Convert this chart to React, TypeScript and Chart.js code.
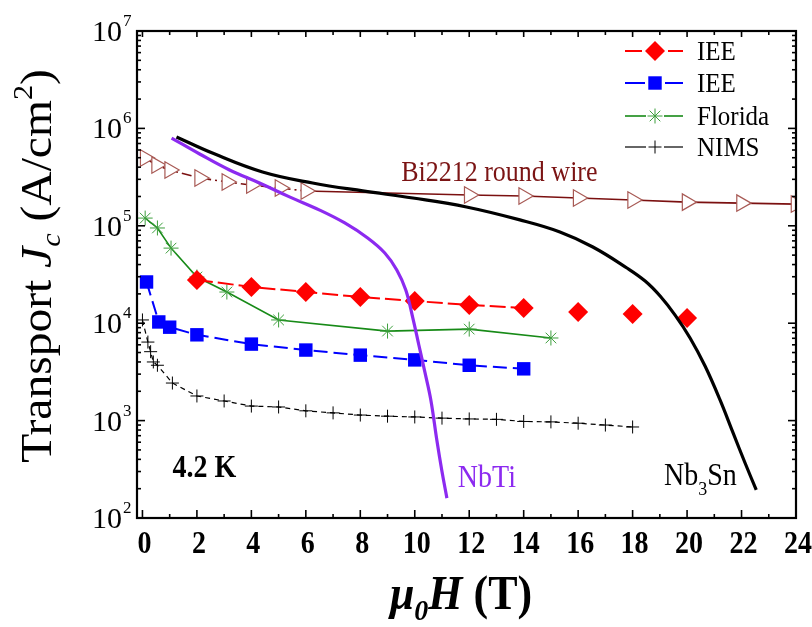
import React, { useEffect, useRef } from 'react';
import { Chart, registerables } from 'chart.js';

Chart.register(...registerables);

const FONT = '"Liberation Serif", "Times New Roman", serif';

// ---------- data ----------
const ieeRedX = [2, 4, 6, 8, 10, 12, 14, 16, 18, 20];
const ieeRedY = [2.78e4, 2.36e4, 2.09e4, 1.86e4, 1.69e4, 1.54e4, 1.43e4, 1.3e4, 1.24e4, 1.13e4];

const ieeBlueX = [0.15, 0.6, 1, 2, 4, 6, 8, 10, 12, 14];
const ieeBlueY = [2.65e4, 1.03e4, 9.1e3, 7.6e3, 6.1e3, 5.3e3, 4.7e3, 4.2e3, 3.7e3, 3.4e3];

const floridaX = [0.1, 0.55, 1.05, 2, 3.1, 5, 9, 12, 15];
const floridaY = [1.2e5, 9.5e4, 5.9e4, 2.98e4, 2.09e4, 1.08e4, 8.3e3, 8.7e3, 7.05e3];

const nimsX = [0, 0.2, 0.3, 0.4, 0.55, 1.1, 2, 3, 4, 5, 6, 7, 8, 9, 10, 11, 12, 13, 14, 15, 16, 17, 18];
const nimsY = [1.08e4, 6.4e3, 5.1e3, 4.0e3, 3.7e3, 2.43e3, 1.79e3, 1.59e3, 1.41e3, 1.38e3, 1.26e3, 1.2e3,
  1.14e3, 1.11e3, 1.09e3, 1.06e3, 1.04e3, 1.03e3, 9.8e2, 9.7e2, 9.4e2, 9.0e2, 8.6e2];

const bi2212X = [0.1, 0.52, 1.0, 2.1, 3.1, 4.0, 5.05, 6.0, 12, 14, 16, 18, 20, 22, 24];
const bi2212Y = [4.97e5, 4.2e5, 3.74e5, 3.1e5, 2.82e5, 2.62e5, 2.44e5, 2.28e5, 2.07e5, 2.02e5, 1.93e5,
  1.84e5, 1.75e5, 1.71e5, 1.67e5];

const nbtiX = [1.07, 2.1, 3.2, 4.3, 5.4, 6.51, 7.43, 8.27, 8.9, 9.34, 9.67, 9.93, 10.15, 10.37, 10.59, 10.81,
  10.99, 11.18];
const nbtiY = [7.96e5, 5.46e5, 3.74e5, 2.75e5, 1.98e5, 1.45e5, 1.07e5, 7.5e4, 5.26e4, 3.52e4, 2.19e4, 1.13e4,
  5.97e3, 3.16e3, 1.63e3, 631, 311, 160];

const nb3snX = [1.25, 2.57, 4.41, 6.25, 8.09, 9.93, 11.9, 13.86, 15.33, 16.54, 17.79, 18.46, 19.01, 19.56,
  20.11, 20.66, 21.21, 21.69, 22.13, 22.54];
const nb3snY = [8.17e5, 5.58e5, 3.57e5, 2.75e5, 2.28e5, 1.93e5, 1.56e5, 1.15e5, 8.65e4, 6.06e4, 3.69e4,
  2.71e4, 1.9e4, 1.21e4, 7.05e3, 3.63e3, 1.63e3, 747, 367, 194];

const xMajorTicks = [0, 2, 4, 6, 8, 10, 12, 14, 16, 18, 20, 22, 24];
const xTickLabels = ['0', '2', '4', '6', '8', '10', '12', '14', '16', '18', '20', '22', '24'];
const xMinorTicks = [1, 3, 5, 7, 9, 11, 13, 15, 17, 19, 21, 23];
const yExponents = [2, 3, 4, 5, 6, 7];

const legendLabels = ['IEE', 'IEE', 'Florida', 'NIMS'];

const pts = (xs: number[], ys: number[]) => xs.map((x, i) => ({ x, y: ys[i] }));

// ---------- drawing helpers ----------
type Part = { t: string; font: string; dy?: number; color?: string };

function measureParts(ctx: CanvasRenderingContext2D, parts: Part[]) {
  let w = 0;
  for (const p of parts) {
    ctx.font = p.font;
    w += ctx.measureText(p.t).width;
  }
  return w;
}

function drawParts(ctx: CanvasRenderingContext2D, parts: Part[], x: number, y: number, color: string) {
  let cx = x;
  ctx.textAlign = 'left';
  ctx.textBaseline = 'alphabetic';
  for (const p of parts) {
    ctx.font = p.font;
    ctx.fillStyle = p.color || color;
    ctx.fillText(p.t, cx, y + (p.dy || 0));
    cx += ctx.measureText(p.t).width;
  }
}

function drawMarker(ctx: CanvasRenderingContext2D, style: string, x: number, y: number, r: number,
  fill: string, stroke: string, lw: number) {
  ctx.save();
  ctx.setLineDash([]);
  ctx.lineWidth = lw;
  ctx.strokeStyle = stroke;
  ctx.fillStyle = fill;
  ctx.beginPath();
  if (style === 'rectRot') {
    ctx.moveTo(x, y - r); ctx.lineTo(x + r, y); ctx.lineTo(x, y + r); ctx.lineTo(x - r, y); ctx.closePath();
    ctx.fill();
  } else if (style === 'rect') {
    const s = r * Math.SQRT1_2;
    ctx.rect(x - s, y - s, 2 * s, 2 * s);
    ctx.fill();
  } else if (style === 'star') {
    for (let k = 0; k < 4; k++) {
      const a = (k * Math.PI) / 4;
      ctx.moveTo(x + Math.cos(a) * r, y + Math.sin(a) * r);
      ctx.lineTo(x - Math.cos(a) * r, y - Math.sin(a) * r);
    }
    ctx.stroke();
  } else if (style === 'cross') {
    ctx.moveTo(x - r, y); ctx.lineTo(x + r, y);
    ctx.moveTo(x, y - r); ctx.lineTo(x, y + r);
    ctx.stroke();
  }
  ctx.restore();
}

const overlayPlugin = {
  id: 'overlay',
  afterDraw(chart: any) {
    const ctx: CanvasRenderingContext2D = chart.ctx;
    const a = chart.chartArea;
    const xs = chart.scales.x;
    const ys = chart.scales.y;
    ctx.save();
    ctx.setLineDash([]);
    ctx.strokeStyle = '#000';
    ctx.fillStyle = '#000';

    // frame
    ctx.lineWidth = 2.2;
    ctx.strokeRect(a.left, a.top, a.right - a.left, a.bottom - a.top);

    const seg = (x1: number, y1: number, x2: number, y2: number) => {
      ctx.beginPath(); ctx.moveTo(x1, y1); ctx.lineTo(x2, y2); ctx.stroke();
    };
    ctx.lineWidth = 1.6;
    // x ticks (inward, bottom & top)
    for (const v of xMajorTicks) {
      const px = xs.getPixelForValue(v);
      seg(px, a.bottom, px, a.bottom - 8);
      seg(px, a.top, px, a.top + 6);
    }
    for (const v of xMinorTicks) {
      const px = xs.getPixelForValue(v);
      seg(px, a.bottom, px, a.bottom - 4);
      seg(px, a.top, px, a.top + 4);
    }
    // y ticks (inward, left & right)
    for (const e of yExponents) {
      const py = ys.getPixelForValue(Math.pow(10, e));
      seg(a.left, py, a.left + 8, py);
      seg(a.right, py, a.right - 8, py);
      if (e < 7) {
        for (let m = 2; m <= 9; m++) {
          const pm = ys.getPixelForValue(m * Math.pow(10, e));
          seg(a.left, pm, a.left + 4, pm);
          seg(a.right, pm, a.right - 4, pm);
        }
      }
    }

    // x tick labels
    ctx.font = `bold 28px ${FONT}`;
    ctx.textAlign = 'center';
    ctx.textBaseline = 'alphabetic';
    xMajorTicks.forEach((v, i) => {
      const px = xs.getPixelForValue(v);
      ctx.save();
      ctx.translate(px + 2, 553);
      ctx.scale(1, 1.1);
      ctx.fillText(xTickLabels[i], 0, 0);
      ctx.restore();
    });

    // y tick labels 10^n
    for (const e of yExponents) {
      const py = ys.getPixelForValue(Math.pow(10, e));
      ctx.font = `30px ${FONT}`;
      ctx.textAlign = 'right';
      ctx.fillText('10', 122, py + 10);
      ctx.font = `17px ${FONT}`;
      ctx.textAlign = 'left';
      ctx.fillText(String(e), 123, py - 5);
    }

    // y title
    const yParts: Part[] = [
      { t: 'Transport ', font: `44px ${FONT}` },
      { t: 'J', font: `italic 44px ${FONT}` },
      { t: 'c', font: `italic 28px ${FONT}`, dy: 9 },
      { t: ' (A/cm', font: `44px ${FONT}` },
      { t: '2', font: `28px ${FONT}`, dy: -19 },
      { t: ')', font: `44px ${FONT}` },
    ];
    ctx.save();
    ctx.translate(51, 266);
    ctx.rotate(-Math.PI / 2);
    ctx.scale(1.08, 1);
    const yw = measureParts(ctx, yParts);
    drawParts(ctx, yParts, -yw / 2, 0, '#000');
    ctx.restore();

    // x title
    const xParts: Part[] = [
      { t: 'μ', font: `bold italic 44px ${FONT}` },
      { t: '0', font: `bold italic 28px ${FONT}`, dy: 10 },
      { t: 'H', font: `bold italic 44px ${FONT}` },
      { t: ' (T)', font: `bold 44px ${FONT}` },
    ];
    const xw = measureParts(ctx, xParts);
    ctx.save();
    ctx.translate(xs.getPixelForValue(11.7) - xw / 2, 609);
    ctx.scale(1, 1.08);
    drawParts(ctx, xParts, 0, 0, '#000');
    ctx.restore();

    // annotations
    const ann = (parts: Part[], xv: number, yv: number, color: string) => {
      ctx.save();
      ctx.translate(xs.getPixelForValue(xv), ys.getPixelForValue(yv));
      ctx.scale(1, 1.1);
      drawParts(ctx, parts, 0, 0, color);
      ctx.restore();
    };
    ann([{ t: 'Bi2212 round wire', font: `26px ${FONT}` }], 9.5, 2.88e5, '#7b1414');
    ann([{ t: 'NbTi', font: `28px ${FONT}` }], 11.58, 208, '#8c2af0');
    ann([
      { t: 'Nb', font: `28px ${FONT}` },
      { t: '3', font: `18px ${FONT}`, dy: 9 },
      { t: 'Sn', font: `28px ${FONT}` },
    ], 19.15, 218, '#000');
    ann([{ t: '4.2 K', font: `bold 28px ${FONT}` }], 1.1, 263, '#000');

    // legend
    const rows = [51, 83, 116, 147];
    const lx0 = a.right - 171;
    const lmid = lx0 + 30;
    const lx1 = lx0 + 58;
    legendLabels.forEach((lab, i) => {
      const ds = chart.data.datasets.find((d: any) => d.legendIndex === i);
      if (!ds) return;
      const y = rows[i];
      const gap = ds.legendGap;
      ctx.save();
      ctx.setLineDash([]);
      ctx.strokeStyle = ds.borderColor;
      ctx.lineWidth = ds.borderWidth;
      seg(lx0, y, lmid - gap, y);
      seg(lmid + gap, y, lx1, y);
      ctx.restore();
      drawMarker(ctx, ds.pointStyle, lmid, y, ds.pointRadius, ds.pointBackgroundColor,
        ds.pointBorderColor, ds.pointBorderWidth);
      ctx.save();
      ctx.translate(lx0 + 72, y + 9);
      ctx.scale(1, 1.08);
      ctx.font = `25px ${FONT}`;
      ctx.fillStyle = '#000';
      ctx.textAlign = 'left';
      ctx.fillText(lab, 0, 0);
      ctx.restore();
    });

    ctx.restore();
  },
};

export default function App() {
  const ref = useRef<HTMLCanvasElement>(null);
  useEffect(() => {
    document.body.style.margin = '0';
    const canvas = ref.current!;
    const datasets: any[] = [
      {
        label: 'NbTi', data: pts(nbtiX, nbtiY), borderColor: '#8c2af0', borderWidth: 3.2,
        pointRadius: 0, tension: 0.4, order: 0,
      },
      {
        label: 'Nb3Sn', data: pts(nb3snX, nb3snY), borderColor: '#000000', borderWidth: 3.2,
        pointRadius: 0, tension: 0.4, order: 1,
      },
      {
        label: 'IEE', legendIndex: 0, legendGap: 13, data: pts(ieeRedX, ieeRedY), borderColor: '#ff0000',
        borderWidth: 2, borderDash: [16, 5], pointStyle: 'rectRot', pointRadius: 10,
        pointBackgroundColor: '#ff0000', pointBorderColor: '#ff0000', pointBorderWidth: 0, order: 2,
        segment: { borderColor: (c: any) => (c.p0DataIndex >= 6 ? 'rgba(0,0,0,0)' : undefined) },
      },
      {
        label: 'IEE', legendIndex: 1, legendGap: 10, data: pts(ieeBlueX, ieeBlueY), borderColor: '#0000ff',
        borderWidth: 2, borderDash: [14, 6], pointStyle: 'rect', pointRadius: 9.5,
        pointBackgroundColor: '#0000ff', pointBorderColor: '#0000ff', pointBorderWidth: 0, order: 3,
      },
      {
        label: 'Florida', legendIndex: 2, legendGap: 9, data: pts(floridaX, floridaY), borderColor: '#178a17',
        borderWidth: 1.6, pointStyle: 'star', pointRadius: 7.5, pointBackgroundColor: '#3d9f3d',
        pointBorderColor: '#3d9f3d', pointBorderWidth: 1, order: 4,
      },
      {
        label: 'NIMS', legendIndex: 3, legendGap: 9, data: pts(nimsX, nimsY), borderColor: '#000000',
        borderWidth: 1.2, borderDash: [5, 4], pointStyle: 'cross', pointRadius: 6.5,
        pointBackgroundColor: '#000000', pointBorderColor: '#000000', pointBorderWidth: 1, order: 5,
      },
      {
        label: 'Bi2212 round wire', data: pts(bi2212X, bi2212Y), borderColor: '#7b1010', borderWidth: 1.6,
        pointStyle: 'triangle', rotation: 90, pointRadius: 9.5, pointBackgroundColor: '#ffffff',
        pointBorderColor: '#a85a55', pointBorderWidth: 1.2, order: 6,
        segment: { borderDash: (c: any) => (c.p0DataIndex < 7 ? [10, 4, 2, 4] : undefined) },
      },
    ];
    const chart = new Chart(canvas, {
      type: 'line',
      data: { datasets },
      options: {
        animation: false,
        responsive: false,
        devicePixelRatio: 1,
        layout: { padding: { top: 31, right: 16, left: 0, bottom: 0 } },
        plugins: { legend: { display: false }, tooltip: { enabled: false } },
        scales: {
          x: {
            type: 'linear', min: -0.2, max: 24,
            grid: { display: false }, border: { display: false }, ticks: { display: false },
            afterFit: (s: any) => { s.height = 109; },
          },
          y: {
            type: 'logarithmic', min: 100, max: 1e7,
            grid: { display: false }, border: { display: false }, ticks: { display: false },
            afterFit: (s: any) => { s.width = 137; },
          },
        },
      } as any,
      plugins: [overlayPlugin],
    });
    return () => chart.destroy();
  }, []);
  return (
    <div style={{ width: 812, height: 627 }}>
      <canvas ref={ref} width={812} height={627} style={{ width: 812, height: 627, display: 'block' }} />
    </div>
  );
}
